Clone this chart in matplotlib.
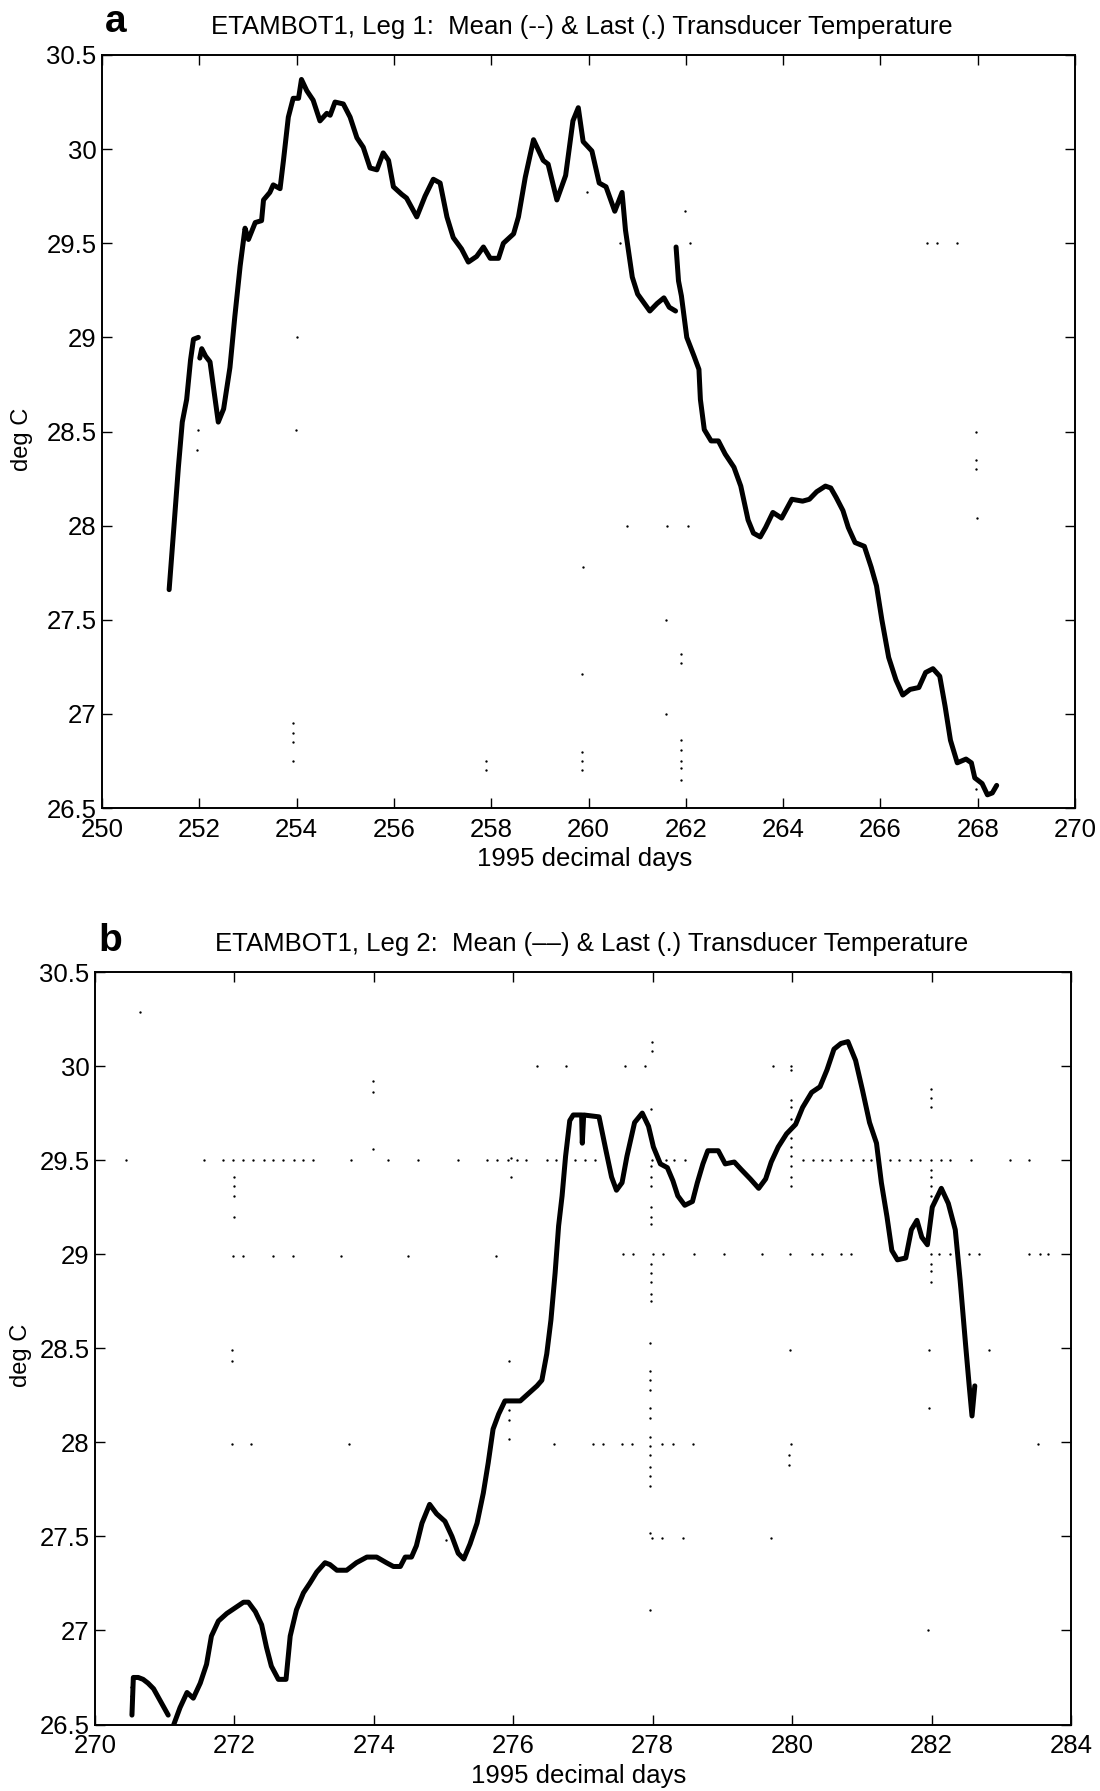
import numpy as np
import matplotlib.pyplot as plt
from matplotlib.ticker import FuncFormatter

plt.rcParams['font.family'] = ['Liberation Sans', 'DejaVu Sans']

# ---- Leg 1: temperatura media (curva continua, 3 trechos) ----
leg1_trecho1 = [(251.38, 27.66), (251.48, 28.00), (251.57, 28.31), (251.65, 28.55),
                (251.74, 28.67), (251.82, 28.88), (251.88, 28.99), (251.98, 29.00)]

leg1_trecho2 = [(252.01, 28.89), (252.05, 28.94), (252.13, 28.90), (252.22, 28.87),
                (252.31, 28.70), (252.39, 28.55), (252.50, 28.62), (252.63, 28.84),
                (252.73, 29.11), (252.84, 29.38), (252.94, 29.58), (253.01, 29.52),
                (253.15, 29.61), (253.28, 29.62), (253.32, 29.73), (253.45, 29.77),
                (253.52, 29.81), (253.66, 29.79), (253.73, 29.94), (253.83, 30.17),
                (253.93, 30.27), (254.04, 30.27), (254.10, 30.37), (254.21, 30.31),
                (254.34, 30.26), (254.48, 30.15), (254.62, 30.19), (254.69, 30.18),
                (254.79, 30.25), (254.96, 30.24), (255.10, 30.17), (255.24, 30.06),
                (255.37, 30.01), (255.51, 29.90), (255.65, 29.89), (255.78, 29.98),
                (255.89, 29.94), (255.99, 29.80), (256.16, 29.76), (256.26, 29.74),
                (256.47, 29.64), (256.64, 29.75), (256.81, 29.84), (256.95, 29.82),
                (257.09, 29.64), (257.22, 29.53), (257.39, 29.47), (257.53, 29.40),
                (257.70, 29.43), (257.84, 29.48), (257.98, 29.42), (258.15, 29.42),
                (258.25, 29.50), (258.46, 29.55), (258.56, 29.64), (258.70, 29.85),
                (258.87, 30.05), (259.07, 29.94), (259.17, 29.92), (259.35, 29.73),
                (259.53, 29.86), (259.68, 30.15), (259.79, 30.22), (259.89, 30.04),
                (260.07, 29.99), (260.22, 29.82), (260.36, 29.80), (260.54, 29.67),
                (260.69, 29.77), (260.76, 29.57), (260.90, 29.32), (261.01, 29.23),
                (261.26, 29.14), (261.41, 29.18), (261.55, 29.21), (261.66, 29.16),
                (261.79, 29.14)]

leg1_trecho3 = [(261.80, 29.48), (261.85, 29.30), (261.91, 29.22), (262.02, 29.00),
                (262.17, 28.90), (262.27, 28.83), (262.30, 28.67), (262.38, 28.51),
                (262.52, 28.45), (262.67, 28.45), (262.81, 28.38), (262.99, 28.31),
                (263.13, 28.21), (263.28, 28.03), (263.39, 27.96), (263.53, 27.94),
                (263.64, 27.99), (263.79, 28.07), (263.97, 28.04), (264.18, 28.14),
                (264.40, 28.13), (264.54, 28.14), (264.69, 28.18), (264.87, 28.21),
                (264.98, 28.20), (265.09, 28.15), (265.23, 28.08), (265.34, 27.99),
                (265.48, 27.91), (265.67, 27.89), (265.81, 27.78), (265.92, 27.68),
                (266.03, 27.50), (266.17, 27.30), (266.32, 27.18), (266.46, 27.10),
                (266.61, 27.13), (266.79, 27.14), (266.93, 27.22), (267.08, 27.24),
                (267.22, 27.20), (267.33, 27.04), (267.44, 26.86), (267.58, 26.74),
                (267.76, 26.76), (267.87, 26.74), (267.94, 26.66), (268.09, 26.63),
                (268.20, 26.57), (268.30, 26.58), (268.39, 26.62)]

# ---- Leg 1: ultimas leituras fora da curva (pontos) ----
leg1_ultimos = [(254.00, 29.00), (251.97, 28.51), (251.95, 28.40), (253.99, 28.51),
                (259.96, 29.77), (261.98, 29.67), (260.64, 29.50), (262.08, 29.50),
                (266.95, 29.50), (267.16, 29.50), (267.57, 29.50),
                (267.97, 28.50), (267.97, 28.35), (267.97, 28.30), (267.98, 28.04),
                (260.79, 28.00), (261.62, 28.00), (262.05, 28.00),
                (259.88, 27.78), (261.60, 27.50), (261.91, 27.32), (261.91, 27.27),
                (259.87, 27.21), (261.59, 27.00),
                (259.86, 26.80), (259.86, 26.75), (259.86, 26.70),
                (261.90, 26.86), (261.90, 26.81), (261.90, 26.75), (261.90, 26.71),
                (261.90, 26.65), (267.96, 26.60),
                (253.93, 26.95), (253.93, 26.90), (253.93, 26.85), (253.93, 26.75),
                (257.89, 26.75), (257.89, 26.70)]

# ---- Leg 2: temperatura media ----
leg2_trecho1 = [(270.53, 26.55), (270.55, 26.75), (270.62, 26.75), (270.69, 26.74),
                (270.76, 26.72), (270.84, 26.69), (270.93, 26.63), (271.05, 26.55)]

leg2_trecho2 = [(271.13, 26.50), (271.22, 26.59), (271.32, 26.67), (271.41, 26.64),
                (271.51, 26.72), (271.60, 26.82), (271.67, 26.97), (271.77, 27.05),
                (271.89, 27.09), (272.01, 27.12), (272.13, 27.15), (272.20, 27.15),
                (272.30, 27.10), (272.39, 27.03), (272.46, 26.91), (272.53, 26.81),
                (272.63, 26.74), (272.74, 26.74), (272.80, 26.97), (272.89, 27.11),
                (272.99, 27.20), (273.08, 27.25), (273.18, 27.31), (273.30, 27.36),
                (273.37, 27.35), (273.47, 27.32), (273.61, 27.32), (273.75, 27.36),
                (273.90, 27.39), (274.04, 27.39), (274.18, 27.36), (274.28, 27.34),
                (274.38, 27.34), (274.45, 27.39), (274.54, 27.39), (274.61, 27.45),
                (274.69, 27.57), (274.80, 27.67), (274.90, 27.62), (275.02, 27.58),
                (275.12, 27.50), (275.21, 27.41), (275.29, 27.38), (275.38, 27.46),
                (275.48, 27.57), (275.57, 27.73), (275.64, 27.89), (275.71, 28.07),
                (275.79, 28.15), (275.88, 28.22), (276.00, 28.22), (276.10, 28.22),
                (276.19, 28.25), (276.34, 28.30), (276.41, 28.33), (276.48, 28.47),
                (276.54, 28.65), (276.60, 28.90), (276.65, 29.15), (276.70, 29.31),
                (276.75, 29.52), (276.81, 29.71), (276.86, 29.74), (276.98, 29.74),
                (276.99, 29.59), (277.01, 29.74), (277.23, 29.73), (277.33, 29.55),
                (277.41, 29.41), (277.48, 29.34), (277.56, 29.38), (277.63, 29.52),
                (277.74, 29.70), (277.85, 29.75), (277.94, 29.68), (278.01, 29.57),
                (278.11, 29.48), (278.21, 29.46), (278.29, 29.39), (278.36, 29.31),
                (278.46, 29.26), (278.57, 29.28), (278.64, 29.38), (278.72, 29.48),
                (278.79, 29.55), (278.94, 29.55), (279.04, 29.48), (279.17, 29.49),
                (279.27, 29.45), (279.40, 29.40), (279.52, 29.35), (279.62, 29.40),
                (279.70, 29.49), (279.80, 29.57), (279.92, 29.64), (280.05, 29.69),
                (280.15, 29.78), (280.28, 29.86), (280.40, 29.89), (280.50, 29.98),
                (280.60, 30.09), (280.70, 30.12), (280.80, 30.13), (280.91, 30.03),
                (281.01, 29.87), (281.11, 29.70), (281.21, 29.59), (281.28, 29.38),
                (281.36, 29.20), (281.43, 29.02), (281.51, 28.97), (281.63, 28.98),
                (281.71, 29.13), (281.79, 29.18), (281.86, 29.09), (281.94, 29.05),
                (282.01, 29.25), (282.14, 29.35), (282.24, 29.27), (282.34, 29.13),
                (282.41, 28.86), (282.49, 28.51), (282.54, 28.30), (282.58, 28.14),
                (282.62, 28.30)]

# ---- Leg 2: ultimas leituras fora da curva ----
leg2_ultimos = [
    (270.64, 30.29), (270.52, 26.70), (270.52, 26.65), (270.52, 26.60),
    # linha 29.5
    (270.45, 29.50), (271.56, 29.50), (271.84, 29.50), (271.98, 29.50), (272.13, 29.50),
    (272.27, 29.50), (272.42, 29.50), (272.56, 29.50), (272.70, 29.50), (272.85, 29.50),
    (272.99, 29.50), (273.12, 29.50), (273.67, 29.50), (274.21, 29.50), (274.64, 29.50),
    (275.20, 29.50), (275.62, 29.50), (275.76, 29.50), (275.92, 29.50), (276.05, 29.50),
    (276.18, 29.50), (276.48, 29.50), (276.61, 29.50), (276.89, 29.50), (277.03, 29.50),
    (277.17, 29.50), (277.99, 29.50), (278.19, 29.50), (278.31, 29.50), (278.46, 29.50),
    (280.15, 29.50), (280.30, 29.50), (280.43, 29.50), (280.55, 29.50), (280.70, 29.50),
    (280.85, 29.50), (281.01, 29.50), (281.13, 29.50), (281.41, 29.50), (281.53, 29.50),
    (281.69, 29.50), (281.84, 29.50), (281.99, 29.50), (282.14, 29.50), (282.26, 29.50),
    (282.57, 29.50), (283.12, 29.50), (283.40, 29.50),
    # coluna 272
    (272.00, 29.41), (272.00, 29.36), (272.00, 29.31), (272.00, 29.20),
    (271.97, 28.49), (271.97, 28.43),
    # linha 29.0
    (271.98, 28.99), (272.12, 28.99), (272.55, 28.99), (272.84, 28.99), (273.53, 28.99),
    (274.49, 28.99), (275.75, 28.99), (277.58, 29.00), (277.72, 29.00), (278.01, 29.00),
    (278.15, 29.00), (278.59, 29.00), (279.02, 29.00), (279.57, 29.00), (279.97, 29.00),
    (280.28, 29.00), (280.43, 29.00), (280.70, 29.00), (280.84, 29.00), (281.99, 29.00),
    (282.11, 29.00), (282.26, 29.00), (282.54, 29.00), (282.68, 29.00), (283.40, 29.00),
    (283.55, 29.00), (283.67, 29.00),
    # perto de 274 e 276
    (273.99, 29.92), (273.99, 29.86), (273.99, 29.56),
    (276.34, 30.00), (275.97, 29.41), (275.97, 29.51),
    # linha 30.0
    (276.75, 30.00), (277.60, 30.00), (277.89, 30.00), (279.73, 30.00), (279.99, 30.00),
    (277.99, 30.13), (277.99, 30.08),
    # coluna 280
    (279.99, 29.98), (279.99, 29.82), (279.99, 29.78), (279.99, 29.72), (279.99, 29.67),
    (279.99, 29.62), (279.99, 29.57), (279.99, 29.52), (279.99, 29.47), (279.99, 29.41),
    (279.99, 29.36),
    # coluna 282
    (281.99, 29.88), (281.99, 29.83), (281.99, 29.78), (281.99, 29.45), (281.99, 29.41),
    (281.99, 29.36), (281.99, 29.31), (281.99, 28.95), (281.99, 28.91), (281.99, 28.85),
    # coluna 278
    (277.97, 29.77), (277.97, 29.47), (277.97, 29.41), (277.97, 29.36), (277.97, 29.25),
    (277.97, 29.20), (277.97, 29.16), (277.97, 28.95), (277.97, 28.90), (277.97, 28.85),
    (277.97, 28.79), (277.97, 28.75), (277.96, 28.53), (277.96, 28.38), (277.96, 28.33),
    (277.96, 28.28), (277.96, 28.18), (277.96, 28.13), (277.96, 28.03), (277.96, 27.98),
    (277.96, 27.93), (277.96, 27.87), (277.96, 27.82), (277.96, 27.77), (277.96, 27.52),
    (277.96, 27.11),
    # linha 28.0
    (271.96, 27.99), (272.24, 27.99), (273.65, 27.99), (276.58, 27.99), (277.14, 27.99),
    (277.28, 27.99), (277.56, 27.99), (277.71, 27.99), (278.14, 27.99), (278.29, 27.99),
    (278.58, 27.99), (279.99, 27.99), (283.52, 27.99),
    (275.94, 28.43), (275.94, 28.17), (275.94, 28.12), (275.94, 28.02),
    (275.03, 27.48),
    (279.97, 28.49), (281.96, 28.49), (282.82, 28.49), (281.96, 28.18),
    (279.96, 27.93), (279.96, 27.88),
    # linha 27.5
    (277.99, 27.49), (278.14, 27.49), (278.43, 27.49), (279.70, 27.49),
    (281.95, 27.00),
]

y_ticks = [26.5, 27, 27.5, 28, 28.5, 29, 29.5, 30, 30.5]
leg1_xticks = [250, 252, 254, 256, 258, 260, 262, 264, 266, 268, 270]
leg2_xticks = [270, 272, 274, 276, 278, 280, 282, 284]

titulo1 = 'ETAMBOT1, Leg 1:  Mean (--) & Last (.) Transducer Temperature'
titulo2 = 'ETAMBOT1, Leg 2:  Mean (\u2013\u2013) & Last (.) Transducer Temperature'


def desenha(ax, trechos, ultimos, xlim, xticks, ylab_x):
    for tr in trechos:
        d, t = zip(*tr)
        ax.plot(d, t, '-', color='black', lw=3.6, solid_capstyle='round',
                solid_joinstyle='round')
    d, t = zip(*ultimos)
    ax.plot(d, t, 'o', color='black', ms=1.7, mew=0)

    ax.set_xlim(xlim)
    ax.set_ylim(26.5, 30.5)
    ax.set_xticks(xticks)
    ax.set_yticks(y_ticks)
    ax.yaxis.set_major_formatter(FuncFormatter(lambda v, p: '%g' % v))
    ax.tick_params(direction='in', length=7, width=1.0, top=True, right=True,
                   labelsize=18.5)
    ax.tick_params(axis='x', pad=7)
    ax.tick_params(axis='y', pad=4)
    for s in ax.spines.values():
        s.set_linewidth(1.4)

    ax.set_xlabel('1995 decimal days', fontsize=18.5, va='top')
    ax.xaxis.set_label_coords(0.496, -0.052)
    ax.set_ylabel('deg C', fontsize=17)
    ax.yaxis.set_label_coords(ylab_x, 0.49)


fig = plt.figure(figsize=(11, 17.91), dpi=100)

ax1 = fig.add_axes([102 / 1100, 1 - 808 / 1791, 973 / 1100, 753 / 1791])
desenha(ax1, [leg1_trecho1, leg1_trecho2, leg1_trecho3], leg1_ultimos,
        (250, 270), leg1_xticks, -0.071)

ax2 = fig.add_axes([95 / 1100, 1 - 1724.5 / 1791, 976 / 1100, 752.5 / 1791])
desenha(ax2, [leg2_trecho1, leg2_trecho2], leg2_ultimos,
        (270, 284), leg2_xticks, -0.065)

fig.text(582 / 1100, 1 - 27 / 1791, titulo1, fontsize=18.5, ha='center', va='center')
fig.text(592 / 1100, 1 - 944 / 1791, titulo2, fontsize=18.5, ha='center', va='center')
fig.text(116 / 1100, 1 - 22 / 1791, 'a', fontsize=28, fontweight='bold',
         ha='center', va='center')
fig.text(110 / 1100, 1 - 941 / 1791, 'b', fontsize=28, fontweight='bold',
         ha='center', va='center')

fig.savefig('out.png', dpi=100, facecolor='white')
